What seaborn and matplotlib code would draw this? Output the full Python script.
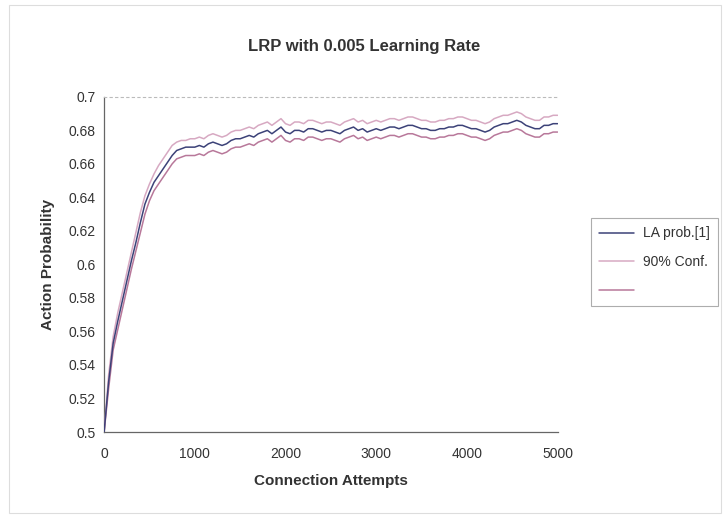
import matplotlib
matplotlib.use("Agg")
import matplotlib.pyplot as plt
import pandas as pd
import seaborn as sns

attempts = list(range(0, 5001, 50))

la_prob = [
    0.500, 0.530, 0.553, 0.566, 0.578, 0.590, 0.602, 0.613, 0.625, 0.636,
    0.643, 0.649, 0.653, 0.657, 0.661, 0.665, 0.668, 0.669, 0.670, 0.670, 0.670,
    0.671, 0.670, 0.672, 0.673, 0.672, 0.671, 0.672, 0.674, 0.675, 0.675,
    0.676, 0.677, 0.676, 0.678, 0.679, 0.680, 0.678, 0.680, 0.682, 0.679,
    0.678, 0.680, 0.680, 0.679, 0.681, 0.681, 0.680, 0.679, 0.680, 0.680,
    0.679, 0.678, 0.680, 0.681, 0.682, 0.680, 0.681, 0.679, 0.680, 0.681,
    0.680, 0.681, 0.682, 0.682, 0.681, 0.682, 0.683, 0.683, 0.682, 0.681,
    0.681, 0.680, 0.680, 0.681, 0.681, 0.682, 0.682, 0.683, 0.683, 0.682,
    0.681, 0.681, 0.680, 0.679, 0.680, 0.682, 0.683, 0.684, 0.684, 0.685,
    0.686, 0.685, 0.683, 0.682, 0.681, 0.681, 0.683, 0.683, 0.684, 0.684,
]

conf_upper = [
    0.500, 0.534, 0.557, 0.571, 0.583, 0.595, 0.607, 0.619, 0.631, 0.641,
    0.648, 0.654, 0.659, 0.663, 0.667, 0.671, 0.673, 0.674, 0.674, 0.675, 0.675,
    0.676, 0.675, 0.677, 0.678, 0.677, 0.676, 0.677, 0.679, 0.680, 0.680,
    0.681, 0.682, 0.681, 0.683, 0.684, 0.685, 0.683, 0.685, 0.687, 0.684,
    0.683, 0.685, 0.685, 0.684, 0.686, 0.686, 0.685, 0.684, 0.685, 0.685,
    0.684, 0.683, 0.685, 0.686, 0.687, 0.685, 0.686, 0.684, 0.685, 0.686,
    0.685, 0.686, 0.687, 0.687, 0.686, 0.687, 0.688, 0.688, 0.687, 0.686,
    0.686, 0.685, 0.685, 0.686, 0.686, 0.687, 0.687, 0.688, 0.688, 0.687,
    0.686, 0.686, 0.685, 0.684, 0.685, 0.687, 0.688, 0.689, 0.689, 0.690,
    0.691, 0.690, 0.688, 0.687, 0.686, 0.686, 0.688, 0.688, 0.689, 0.689,
]

conf_lower = [
    0.500, 0.526, 0.549, 0.561, 0.573, 0.585, 0.597, 0.608, 0.619, 0.630,
    0.638, 0.644, 0.648, 0.652, 0.656, 0.660, 0.663, 0.664, 0.665, 0.665, 0.665,
    0.666, 0.665, 0.667, 0.668, 0.667, 0.666, 0.667, 0.669, 0.670, 0.670,
    0.671, 0.672, 0.671, 0.673, 0.674, 0.675, 0.673, 0.675, 0.677, 0.674,
    0.673, 0.675, 0.675, 0.674, 0.676, 0.676, 0.675, 0.674, 0.675, 0.675,
    0.674, 0.673, 0.675, 0.676, 0.677, 0.675, 0.676, 0.674, 0.675, 0.676,
    0.675, 0.676, 0.677, 0.677, 0.676, 0.677, 0.678, 0.678, 0.677, 0.676,
    0.676, 0.675, 0.675, 0.676, 0.676, 0.677, 0.677, 0.678, 0.678, 0.677,
    0.676, 0.676, 0.675, 0.674, 0.675, 0.677, 0.678, 0.679, 0.679, 0.680,
    0.681, 0.680, 0.678, 0.677, 0.676, 0.676, 0.678, 0.678, 0.679, 0.679,
]

series_names = ["LA prob.[1]", "90% Conf.", " "]
series_colors = ["#3c4278", "#d7a9c2", "#b8789a"]

df = pd.concat([
    pd.DataFrame({"attempt": attempts, "prob": vals, "series": name})
    for name, vals in zip(series_names, [la_prob, conf_upper, conf_lower])
])

sns.set_style("white")
plt.rcParams["font.family"] = ["Liberation Sans", "DejaVu Sans"]

fig = plt.figure(figsize=(7.28, 5.18), dpi=100)
ax = fig.add_axes([0.143, 0.166, 0.623, 0.647])

sns.lineplot(data=df, x="attempt", y="prob", hue="series",
             palette=dict(zip(series_names, series_colors)),
             linewidth=1.1, ax=ax, legend=True, zorder=3)
# keep the mean line on top of the bands
for line in ax.get_lines():
    if line.get_color() == series_colors[0]:
        line.set_zorder(5)

ax.set_xlim(0, 5000)
ax.set_ylim(0.5, 0.7)
ax.set_xticks([0, 1000, 2000, 3000, 4000, 5000])
ax.set_yticks([0.5 + 0.02 * i for i in range(11)])
ax.set_yticklabels(["0.5", "0.52", "0.54", "0.56", "0.58", "0.6",
                    "0.62", "0.64", "0.66", "0.68", "0.7"])
ax.tick_params(axis="both", direction="inout", length=5, width=0.8,
               colors="#555555", labelcolor="#333333", labelsize=10)
ax.tick_params(axis="x", pad=8)

ax.spines["right"].set_visible(False)
ax.spines["top"].set_color("#bbbbbb")
ax.spines["top"].set_linestyle((0, (2, 3)))
ax.spines["top"].set_linewidth(0.8)
for side in ["left", "bottom"]:
    ax.spines[side].set_color("#666666")
    ax.spines[side].set_linewidth(0.9)

ax.set_xlabel("Connection Attempts", fontsize=11, fontweight="bold",
              color="#333333", labelpad=10)
ax.set_ylabel("Action Probability", fontsize=11, fontweight="bold",
              color="#333333", labelpad=10)
fig.suptitle("LRP with 0.005 Learning Rate", x=0.5, y=0.925, fontsize=12,
             fontweight="bold", color="#333333")

handles, labels = ax.get_legend_handles_labels()
ax.get_legend().remove()
leg = fig.legend(handles, labels, loc="upper left",
                 bbox_to_anchor=(0.812, 0.579), frameon=True, fancybox=False,
                 fontsize=10, handlelength=2.5, handletextpad=0.6,
                 borderpad=0.6, labelspacing=1.05, borderaxespad=0,
                 edgecolor="#999999")
leg.get_frame().set_linewidth(0.8)
for t in leg.get_texts():
    t.set_color("#333333")

fig.patches.append(plt.Rectangle((0.012, 0.01), 0.978, 0.98,
                                 transform=fig.transFigure, fill=False,
                                 edgecolor="#dddddd", linewidth=0.8))

fig.savefig("out.png", dpi=100)
